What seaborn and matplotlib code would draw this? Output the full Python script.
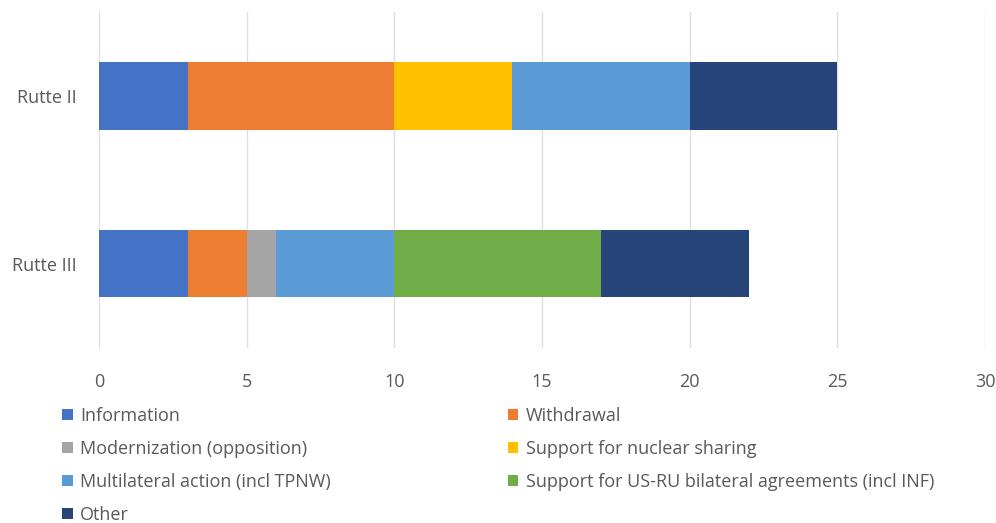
import matplotlib
matplotlib.use("Agg")
import matplotlib.pyplot as plt
import seaborn as sns
import numpy as np
import pandas as pd
from matplotlib.patches import Patch

# Cabinets and number of statements per category
cabinets = ["Rutte II", "Rutte III"]
categories = [
    "Information",
    "Withdrawal",
    "Modernization (opposition)",
    "Support for nuclear sharing",
    "Multilateral action (incl TPNW)",
    "Support for US-RU bilateral agreements (incl INF)",
    "Other",
]
information = [3, 3]
withdrawal = [7, 2]
modernization = [0, 1]
nuclear_sharing = [4, 0]
multilateral = [6, 4]
bilateral = [0, 7]
other = [5, 5]

colors = ["#4472C4", "#ED7D31", "#A5A5A5", "#FFC000", "#5B9BD5", "#70AD47", "#264478"]

series = [information, withdrawal, modernization, nuclear_sharing,
          multilateral, bilateral, other]

sns.set_theme(style="white")
plt.rcParams["font.family"] = ["Open Sans", "DejaVu Sans"]
text_color = "#595959"

fig = plt.figure(figsize=(9.96, 5.23), dpi=100)
ax = fig.add_axes([0.0994, 0.335, 0.8896, 0.642])

# Stacked horizontal bars: draw cumulative totals from the outermost segment inward
cum = np.cumsum(np.array(series), axis=0)
df = pd.DataFrame({"cabinet": cabinets})
for i in range(len(series) - 1, -1, -1):
    df["value"] = cum[i]
    sns.barplot(data=df, x="value", y="cabinet", color=colors[i], width=0.4,
                saturation=1, ax=ax, orient="h", zorder=2, linewidth=0)

ax.set_xlim(0, 30)
ax.set_ylim(1.5, -0.5)
ax.set_xticks(range(0, 31, 5))
ax.grid(axis="x", color="#E0E0E0", linewidth=1, zorder=0)
ax.set_axisbelow(True)
for s in ax.spines.values():
    s.set_visible(False)
ax.set_xlabel("")
ax.set_ylabel("")
ax.tick_params(axis="x", length=0, pad=18, labelsize=13, labelcolor=text_color)
ax.tick_params(axis="y", length=0, pad=16, labelsize=13, labelcolor=text_color)

# Legend laid out row-wise in two columns
handles = [Patch(facecolor=c, edgecolor="none") for c in colors]
order = [0, 2, 4, 6, 1, 3, 5]
fig.legend([handles[i] for i in order], [categories[i] for i in order],
           loc="upper left", bbox_to_anchor=(0.062, 0.222), ncol=2,
           frameon=False, fontsize=13, labelcolor=text_color,
           handlelength=0.6, handleheight=0.6, handletextpad=0.4,
           labelspacing=0.83, columnspacing=9.8, borderaxespad=0, borderpad=0)

fig.savefig("out.png", dpi=100)
